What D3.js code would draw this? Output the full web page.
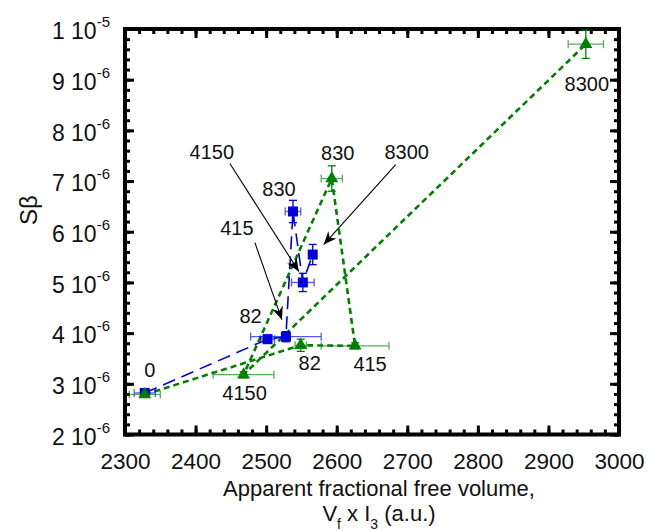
<!DOCTYPE html>
<html lang="en">
<head>
<meta charset="UTF-8">
<title>S beta vs free volume</title>
<script src="https://d3js.org/d3.v7.min.js"></script>
<style>
  body { margin: 0; background: #fff; }
  text { font-family: "Liberation Sans", Arial, sans-serif; fill: #111; }
</style>
</head>
<body>
<div id="chart"></div>
<script>
// concentrations (labels of the points), same order for both series
var conc = ["0", "82", "415", "830", "4150", "8300"];

// blue squares
var blueX    = [2328, 2502, 2528, 2538, 2552, 2566];
var blueY    = [2.82e-6, 3.88e-6, 3.93e-6, 6.40e-6, 5.00e-6, 5.55e-6];
var blueXErr = [15, 10, 50, 11, 16, 5];
var blueYErr = [0.05e-6, 0.08e-6, 0.1e-6, 0.22e-6, 0.18e-6, 0.2e-6];

// green triangles
var greenX    = [2328, 2549, 2626, 2593, 2468, 2953];
var greenY    = [2.79e-6, 3.76e-6, 3.75e-6, 7.05e-6, 3.18e-6, 9.70e-6];
var greenXErr = [22, 8, 48, 15, 43, 25];
var greenYErr = [0.05e-6, 0.12e-6, 0.06e-6, 0.25e-6, 0.06e-6, 0.28e-6];

// axis ticks
var xTicks = [2300, 2400, 2500, 2600, 2700, 2800, 2900, 3000];
var yTicks = [2e-6, 3e-6, 4e-6, 5e-6, 6e-6, 7e-6, 8e-6, 9e-6, 1e-5];

var margin = { top: 29, right: 30, bottom: 96.5, left: 125 };
var W = 649, H = 531;
var width = W - margin.left - margin.right,
    height = H - margin.top - margin.bottom;

var x = d3.scaleLinear().domain([2300, 3000]).range([0, width]);
var y = d3.scaleLinear().domain([2e-6, 1e-5]).range([height, 0]);

var svg = d3.select('#chart').append('svg')
  .attr('width', W).attr('height', H);

var defs = svg.append('defs');
defs.append('marker')
  .attr('id', 'arrow')
  .attr('viewBox', '-14 -7 16 14')
  .attr('refX', 0).attr('refY', 0)
  .attr('markerWidth', 16).attr('markerHeight', 14)
  .attr('markerUnits', 'userSpaceOnUse')
  .attr('orient', 'auto')
  .append('path')
  .attr('d', 'M0,0 L-13,-5.5 L-9,0 L-13,5.5 Z')
  .attr('fill', '#000');

var g = svg.append('g')
  .attr('transform', 'translate(' + margin.left + ',' + margin.top + ')');

// minor ticks
var xMinor = d3.range(2300, 3001, 20);
var yMinor = d3.range(0, 41).map(function(i) { return 2e-6 + i * 0.2e-6; });

function styleAxis(sel) {
  sel.select('.domain').remove();
  sel.selectAll('line').attr('stroke', '#000').attr('stroke-width', 3);
}

g.append('g').attr('transform', 'translate(0,' + height + ')')
  .call(d3.axisBottom(x).tickValues(xMinor).tickSize(-5).tickFormat(''))
  .call(styleAxis);
g.append('g')
  .call(d3.axisTop(x).tickValues(xMinor).tickSize(-5).tickFormat(''))
  .call(styleAxis);
g.append('g')
  .call(d3.axisLeft(y).tickValues(yMinor).tickSize(-5).tickFormat(''))
  .call(styleAxis);
g.append('g').attr('transform', 'translate(' + width + ',0)')
  .call(d3.axisRight(y).tickValues(yMinor).tickSize(-5).tickFormat(''))
  .call(styleAxis);

// major ticks with labels
var xAxis = g.append('g').attr('transform', 'translate(0,' + height + ')')
  .call(d3.axisBottom(x).tickValues(xTicks).tickSize(-9).tickPadding(19).tickFormat(d3.format('d')))
  .call(styleAxis);
xAxis.selectAll('text').attr('font-size', 22.5).attr('fill', '#111');

g.append('g')
  .call(d3.axisTop(x).tickValues(xTicks).tickSize(-9).tickFormat(''))
  .call(styleAxis);
g.append('g').attr('transform', 'translate(' + width + ',0)')
  .call(d3.axisRight(y).tickValues(yTicks).tickSize(-9).tickFormat(''))
  .call(styleAxis);

var yAxis = g.append('g')
  .call(d3.axisLeft(y).tickValues(yTicks).tickSize(-9).tickPadding(15).tickFormat(''))
  .call(styleAxis);

yAxis.selectAll('.tick').each(function(d) {
  var e = Math.floor(Math.log10(d) + 1e-9);
  var m = Math.round(d / Math.pow(10, e));
  var t = d3.select(this).select('text')
    .attr('font-size', 23).attr('fill', '#111').attr('dy', '0.42em');
  t.text(null);
  t.append('tspan').text(m + ' 10');
  t.append('tspan').attr('font-size', 15).attr('dy', '-0.8em').text(e);
});

// frame
g.append('rect')
  .attr('width', width).attr('height', height)
  .attr('fill', 'none').attr('stroke', '#000').attr('stroke-width', 4);

// data
var blue = conc.map(function(c, i) {
  return { c: c, x: blueX[i], y: blueY[i], ex: blueXErr[i], ey: blueYErr[i] };
});
var green = conc.map(function(c, i) {
  return { c: c, x: greenX[i], y: greenY[i], ex: greenXErr[i], ey: greenYErr[i] };
});

var line = d3.line()
  .x(function(d) { return x(d.x); })
  .y(function(d) { return y(d.y); });

g.append('path').datum(green)
  .attr('d', line)
  .attr('fill', 'none').attr('stroke', '#008000')
  .attr('stroke-width', 2.6).attr('stroke-dasharray', '6,4');

g.append('path').datum(blue)
  .attr('d', line)
  .attr('fill', 'none').attr('stroke', '#0000dd')
  .attr('stroke-width', 1.6).attr('stroke-dasharray', '13,7');

function errorBars(data, color) {
  var eg = g.append('g');
  data.forEach(function(d) {
    var cx = x(d.x), cy = y(d.y);
    var x0 = x(d.x - d.ex), x1 = x(d.x + d.ex);
    var y0 = y(d.y - d.ey), y1 = y(d.y + d.ey);
    var h = eg.append('g').attr('stroke', color).attr('stroke-width', 1.3).attr('opacity', 0.65);
    h.append('line').attr('x1', x0).attr('x2', x1).attr('y1', cy).attr('y2', cy);
    h.append('line').attr('x1', x0).attr('x2', x0).attr('y1', cy - 4).attr('y2', cy + 4);
    h.append('line').attr('x1', x1).attr('x2', x1).attr('y1', cy - 4).attr('y2', cy + 4);
    var v = eg.append('g').attr('stroke', color).attr('stroke-width', 1.3);
    v.append('line').attr('x1', cx).attr('x2', cx).attr('y1', y0).attr('y2', y1);
    v.append('line').attr('x1', cx - 4).attr('x2', cx + 4).attr('y1', y0).attr('y2', y0);
    v.append('line').attr('x1', cx - 4).attr('x2', cx + 4).attr('y1', y1).attr('y2', y1);
  });
}
errorBars(blue, '#0000dd');
errorBars(green, '#008000');

g.selectAll('.sq').data(blue).enter().append('rect')
  .attr('class', 'sq')
  .attr('x', function(d) { return x(d.x) - 5; })
  .attr('y', function(d) { return y(d.y) - 5; })
  .attr('width', 10).attr('height', 10)
  .attr('fill', '#0000dd');

g.selectAll('.tri').data(green).enter().append('path')
  .attr('class', 'tri')
  .attr('d', d3.symbol().type(d3.symbolTriangle).size(72))
  .attr('transform', function(d) { return 'translate(' + x(d.x) + ',' + y(d.y) + ')'; })
  .attr('fill', '#008000');

// point labels: index into series, pixel offset from the point
var blueLabelIdx = [0, 1, 3];
var blueLabelDx  = [5, -17, -14];
var blueLabelDy  = [-23, -23, -23];
var greenLabelIdx = [1, 2, 3, 4, 5];
var greenLabelDx  = [9, 15, 6, 1, 1];
var greenLabelDy  = [18, 18, -26, 18, 40];

function pointLabels(data, idx, dx, dy) {
  idx.forEach(function(k, i) {
    g.append('text')
      .attr('x', x(data[k].x) + dx[i])
      .attr('y', y(data[k].y) + dy[i])
      .attr('dy', '0.36em')
      .attr('text-anchor', 'middle')
      .attr('font-size', 20)
      .text(data[k].c);
  });
}
pointLabels(blue, blueLabelIdx, blueLabelDx, blueLabelDy);
pointLabels(green, greenLabelIdx, greenLabelDx, greenLabelDy);

// arrow callouts pointing at blue points
var arrowIdx = [4, 2, 5];
var arrowTextDx = [-91, -49, 94];
var arrowTextDy = [-131, -109, -103];
var arrowTipDx = [-4, -4, 11];
var arrowTipDy = [-11, -17, -10];
var arrowTailDy = [12, 15, 13];

arrowIdx.forEach(function(k, i) {
  var px = x(blue[k].x), py = y(blue[k].y);
  var tx = px + arrowTextDx[i], ty = py + arrowTextDy[i];
  g.append('text')
    .attr('x', tx).attr('y', ty).attr('dy', '0.36em')
    .attr('text-anchor', 'middle').attr('font-size', 20)
    .text(blue[k].c);
  var sx = tx + (arrowTextDx[i] > 0 ? -11 : 18);
  g.append('line')
    .attr('x1', sx).attr('y1', ty + arrowTailDy[i])
    .attr('x2', px + arrowTipDx[i]).attr('y2', py + arrowTipDy[i])
    .attr('stroke', '#000').attr('stroke-width', 1.1)
    .attr('marker-end', 'url(#arrow)');
});

// axis titles
svg.append('text')
  .attr('transform', 'translate(37,210) rotate(-90)')
  .attr('text-anchor', 'middle').attr('font-size', 24)
  .text('S\u03b2');

svg.append('text')
  .attr('x', 379).attr('y', 496)
  .attr('text-anchor', 'middle').attr('font-size', 22)
  .text('Apparent fractional free volume,');

var t2 = svg.append('text')
  .attr('x', 379).attr('y', 521)
  .attr('text-anchor', 'middle').attr('font-size', 22);
t2.append('tspan').text('V');
t2.append('tspan').attr('font-size', 14).attr('dy', 8).text('f');
t2.append('tspan').attr('dy', -8).text(' x I');
t2.append('tspan').attr('font-size', 14).attr('dy', 8).text('3');
t2.append('tspan').attr('dy', -8).text(' (a.u.)');
</script>
</body>
</html>
